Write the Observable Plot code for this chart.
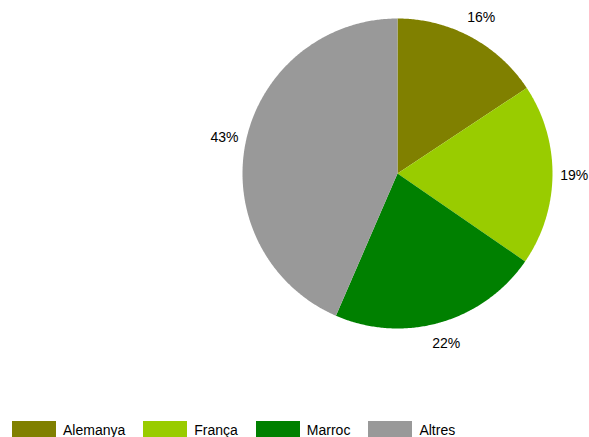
<!DOCTYPE html>
<html>
<head>
<meta charset="utf-8">
<script src="https://cdn.jsdelivr.net/npm/d3@7"></script>
<script src="https://cdn.jsdelivr.net/npm/@observablehq/plot@0.6"></script>
<style>
  html, body { margin: 0; padding: 0; background: #fff; }
  body { width: 589px; height: 437px; overflow: hidden; font-family: "Liberation Sans", Arial, sans-serif; }
  #legend { display: flex; align-items: flex-start; height: 27px; padding-left: 12px; box-sizing: border-box; padding-top: 11px; }
  .item { display: flex; align-items: flex-start; margin-right: 18px; }
  .sw { width: 44px; height: 16px; margin-right: 7px; }
  .lab { font-size: 14px; line-height: 14px; margin-top: 2px; color: #000; }
</style>
</head>
<body>
<div id="chart"></div>
<div id="legend"></div>
<script>
const categories = ["Alemanya", "França", "Marroc", "Altres"];
const values = [15.7, 18.9, 21.9, 43.5];
const labels = ["16%", "19%", "22%", "43%"];
const colors = ["#808000", "#99cc00", "#008000", "#999999"];

const pie = d3.pie().sort(null).value(d => d.value)(categories.map((name, i) => ({name, value: values[i], label: labels[i]})));

// Build slice polygons in unit coordinates (angle 0 at top, clockwise)
const polys = [];
for (const a of pie) {
  const name = a.data.name;
  polys.push({name, x: 0, y: 0});
  const steps = Math.max(2, Math.ceil((a.endAngle - a.startAngle) / (Math.PI / 360)));
  for (let k = 0; k <= steps; k++) {
    const t = a.startAngle + (a.endAngle - a.startAngle) * k / steps;
    polys.push({name, x: Math.sin(t), y: Math.cos(t)});
  }
  polys.push({name, x: 0, y: 0});
}
const labelR = 1.14;
const textData = pie.map(a => {
  const m = (a.startAngle + a.endAngle) / 2;
  return {name: a.data.name, label: a.data.label, x: labelR * Math.sin(m), y: labelR * Math.cos(m)};
});

const plot = Plot.plot({
  width: 589,
  height: 410,
  marginLeft: 242,
  marginRight: 37,
  marginTop: 18,
  marginBottom: 82,
  x: {domain: [-1, 1], axis: null},
  y: {domain: [-1, 1], axis: null},
  color: {domain: categories, range: colors},
  style: {fontFamily: "'Liberation Sans', Arial, sans-serif", background: "#fff", overflow: "visible"},
  marks: [
    Plot.line(polys, {x: "x", y: "y", z: "name", fill: "name", stroke: null, curve: "linear"}),
    Plot.text(textData, {x: "x", y: "y", text: "label", fontSize: 14, fill: "#000"})
  ]
});
document.getElementById("chart").appendChild(plot);

const legend = document.getElementById("legend");
categories.forEach((c, i) => {
  const item = document.createElement("div");
  item.className = "item";
  const sw = document.createElement("div");
  sw.className = "sw";
  sw.style.background = colors[i];
  const lab = document.createElement("div");
  lab.className = "lab";
  lab.textContent = c;
  item.appendChild(sw);
  item.appendChild(lab);
  legend.appendChild(item);
});
</script>
</body>
</html>
